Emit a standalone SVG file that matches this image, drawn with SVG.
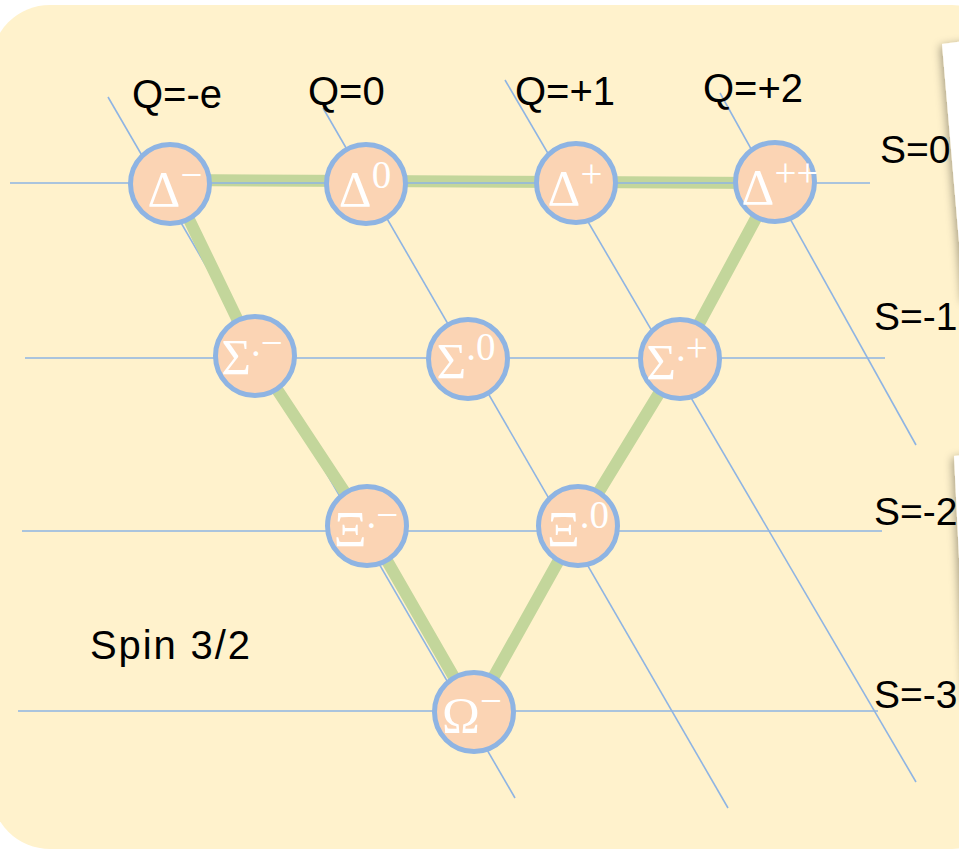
<svg xmlns="http://www.w3.org/2000/svg" width="959" height="849" viewBox="0 0 959 849">
<defs>
<filter id="sh" x="-50%" y="-50%" width="200%" height="200%">
<feDropShadow dx="-2" dy="2" stdDeviation="4" flood-color="#000" flood-opacity="0.35"/>
</filter>
<style>
.grid{stroke:#8EB4E3;stroke-width:1.6;fill:none}
.path{stroke:#C3D69B;stroke-width:12;fill:none;stroke-linejoin:round}
.node circle{fill:#FBD4B4;stroke:#8EB4E3;stroke-width:5}
.node text{fill:#fff;font-family:"Liberation Serif","DejaVu Serif",serif;font-size:51px;text-anchor:middle}
.sup{font-size:39px}
.lab{fill:#000;font-family:"Liberation Sans",Arial,sans-serif;font-size:40px}
.slab{fill:#000;font-family:"Liberation Sans",Arial,sans-serif;font-size:39px}
</style>
</defs>
<rect x="-9" y="5" width="1020" height="844" rx="59" ry="59" fill="#FFF2CC"/>
<g id="papers" filter="url(#sh)">
<polygon points="942,44 1010,35 1010,300 964,300" fill="#fff"/>
<polygon points="954,456 1010,450 1010,700 966,700" fill="#fff"/>
</g>
<g id="connectors">
<line class="grid" x1="108" y1="97" x2="515" y2="798"/>
<line class="grid" x1="323" y1="108" x2="728" y2="808"/>
<line class="grid" x1="505" y1="80" x2="916" y2="782"/>
<line class="grid" x1="720" y1="93" x2="916" y2="445"/>
<polyline class="path" points="170,180 366,181 576,182 775,183 680,359 578,526 474,712 367,526 255,356 170,180"/>
<line class="grid" x1="10" y1="183" x2="870" y2="183"/>
<line class="grid" x1="25" y1="358" x2="885" y2="358"/>
<line class="grid" x1="22" y1="531" x2="882" y2="531"/>
<line class="grid" x1="18" y1="711" x2="878" y2="711"/>
</g>
<g id="n_dm" class="node"><circle cx="170" cy="184" r="39.5"/><text x="175" y="206">Δ<tspan class="sup" dy="-18">−</tspan></text></g>
<g id="n_d0" class="node"><circle cx="366" cy="184" r="39.5"/><text x="365" y="206">Δ<tspan class="sup" dy="-18">0</tspan></text></g>
<g id="n_dp" class="node"><circle cx="576" cy="183" r="39.5"/><text x="575" y="205">Δ<tspan class="sup" dy="-18">+</tspan></text></g>
<g id="n_dpp" class="node"><circle cx="775" cy="182" r="39.5"/><text x="780" y="204">Δ<tspan class="sup" dy="-18">++</tspan></text></g>
<g id="n_sm" class="node"><circle cx="255" cy="356" r="39.5"/><text x="252" y="374">Σ<tspan class="sup" dy="-18">.−</tspan></text></g>
<g id="n_s0" class="node"><circle cx="468" cy="359" r="39.5"/><text x="466" y="378">Σ<tspan class="sup" dy="-18">.0</tspan></text></g>
<g id="n_sp" class="node"><circle cx="680" cy="359" r="39.5"/><text x="677" y="379">Σ<tspan class="sup" dy="-18">.+</tspan></text></g>
<g id="n_xm" class="node"><circle cx="367" cy="526" r="39.5"/><text x="366" y="546">Ξ<tspan class="sup" dy="-18">.−</tspan></text></g>
<g id="n_x0" class="node"><circle cx="578" cy="526" r="39.5"/><text x="578" y="546">Ξ<tspan class="sup" dy="-18">.0</tspan></text></g>
<g id="n_om" class="node"><circle cx="474" cy="712" r="39.5"/><text x="472" y="732">Ω<tspan class="sup" dy="-18">−</tspan></text></g>
<g id="labels">
<text class="lab" x="132" y="108">Q=-e</text>
<text class="lab" x="308" y="105">Q=0</text>
<text class="lab" x="515" y="105">Q=+1</text>
<text class="lab" x="703" y="102">Q=+2</text>
<text class="slab" x="880" y="163">S=0</text>
<text class="slab" x="874" y="330">S=-1</text>
<text class="slab" x="874" y="525">S=-2</text>
<text class="slab" x="874" y="708">S=-3</text>
<text class="lab" x="90" y="659" textLength="160">Spin 3/2</text>
</g>
</svg>
